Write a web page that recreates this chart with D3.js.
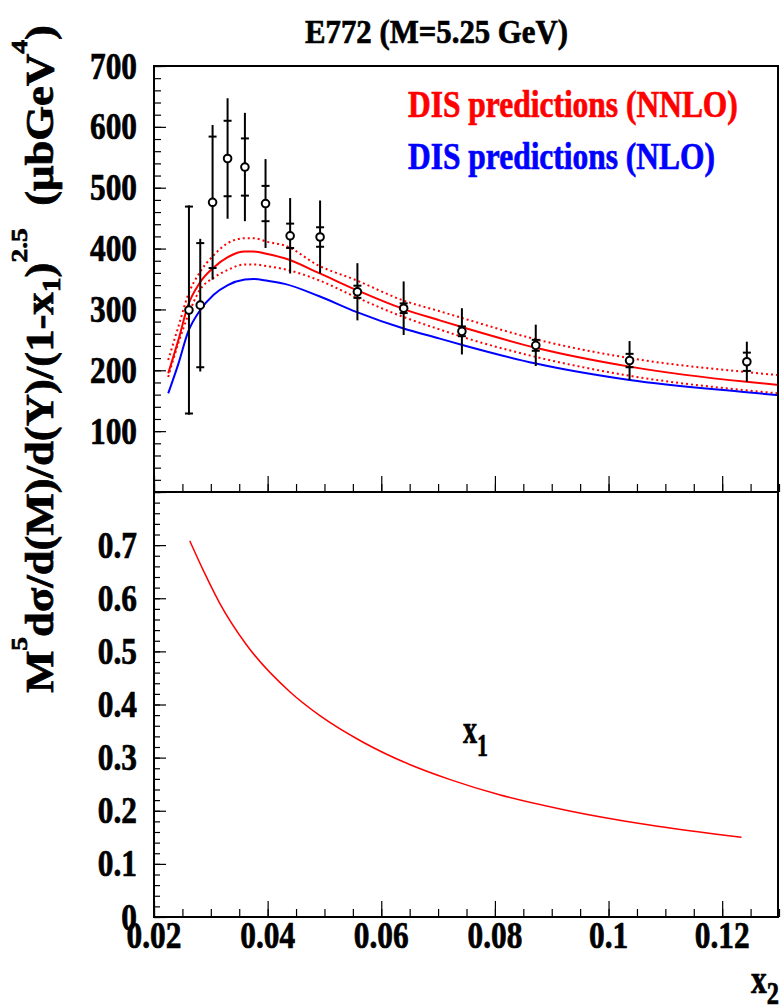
<!DOCTYPE html>
<html><head><meta charset="utf-8">
<script src="https://cdn.jsdelivr.net/npm/d3@7"></script>
<style>body{margin:0;background:#fff}text{font-weight:bold;white-space:pre}</style>
</head><body>
<svg id="c" width="783" height="1005" xmlns="http://www.w3.org/2000/svg"></svg>
<script>
// ---------- texts / ticks ----------
const titleText = "E772 (M=5.25 GeV)";
const xTickValues = [0.02, 0.04, 0.06, 0.08, 0.10, 0.12];
const xTickLabels = ["0.02", "0.04", "0.06", "0.08", "0.1", "0.12"];
const upperYTickValues = [100, 200, 300, 400, 500, 600, 700];
const upperYTickLabels = ["100", "200", "300", "400", "500", "600", "700"];
const lowerYTickValues = [0, 0.1, 0.2, 0.3, 0.4, 0.5, 0.6, 0.7];
const lowerYTickLabels = ["0", "0.1", "0.2", "0.3", "0.4", "0.5", "0.6", "0.7"];
const legendLabels = ["DIS predictions (NNLO)", "DIS predictions (NLO)"];
const legendColors = ["#ff0000", "#0000ff"];

// ---------- E772 data points ----------
const dataX   = [0.02615, 0.02814, 0.03031, 0.03295, 0.0360, 0.03963, 0.04396, 0.04923, 0.0558, 0.06394, 0.07419, 0.08719, 0.1037, 0.12434];
const dataY   = [299, 307, 476, 548, 534, 474, 421, 419, 329, 302, 264, 241, 216, 214];
const statErr = [170, 102, 108, 62, 47, 29, 20, 16, 10, 8, 8, 9, 11, 15];
const totErr  = [172, 109, 127, 99, 89, 73, 62, 60, 47, 44, 38, 34, 32, 33];

// ---------- prediction curves ----------
const curveX     = [0.0225, 0.0243, 0.026, 0.028, 0.0305, 0.033, 0.036, 0.0375, 0.040, 0.043, 0.049, 0.0556, 0.0638, 0.0703, 0.0749, 0.0872, 0.1037, 0.1243, 0.13];
const nnlo       = [195, 250, 307, 343, 369, 386, 395, 395, 391, 384, 360, 332, 301, 282, 269, 237, 206, 181, 176];
const nnloUpper  = [217, 272, 324, 360, 389, 409, 417, 417, 411, 405, 372, 348, 315, 297, 284, 251, 220, 197, 192];
const nnloLower  = [189, 245, 290, 331, 352, 365, 374, 374, 371, 366, 348, 320, 288, 267, 253, 222, 191, 167, 162];
const nlo        = [162, 211, 263, 297, 324, 340, 349, 350, 347, 342, 322, 296, 269, 252, 240, 211, 184, 164, 159];

// ---------- x1 vs x2 ----------
const x1CurveX = [0.0263, 0.0287, 0.0316, 0.0363, 0.0439, 0.0492, 0.0568, 0.0650, 0.0720, 0.0808, 0.0925, 0.1072, 0.1234];
const x1CurveY = [0.708, 0.652, 0.590, 0.512, 0.424, 0.379, 0.329, 0.287, 0.259, 0.230, 0.201, 0.173, 0.150];

// ---------- pick an installed Times-like font ----------
function pickFont(cands) {
  const ctx = document.createElement("canvas").getContext("2d");
  const s = "abcdefghijklmnopqrstuvwxyzABCDEFGHIJKLM0123456789";
  const w = f => { ctx.font = "bold 40px " + f; return ctx.measureText(s).width; };
  const m = w("monospace"), ss = w("sans-serif");
  for (const c of cands) {
    const q = `"${c}"`;
    if (w(q + ", monospace") !== m && w(q + ", sans-serif") !== ss) return q;
  }
  return "serif";
}
const FONT = pickFont(["Liberation Serif", "Times New Roman", "Tinos", "Nimbus Roman", "Nimbus Roman No9 L", "FreeSerif", "Times", "DejaVu Serif"]);

// ---------- layout ----------
const L = 154, R = 779, upTop = 66, mid = 492, lowBot = 917;
const svg = d3.select("#c").attr("font-family", FONT).style("font-family", FONT);
const x  = d3.scaleLinear().domain([0.02, 0.13]).range([L, R]);
const yU = d3.scaleLinear().domain([0, 700]).range([mid, upTop]);
const yL = d3.scaleLinear().domain([0, 0.8]).range([lowBot, mid]);

const xMinor = d3.range(0.02, 0.1300001, 0.005).map(v => +v.toFixed(4));
const yUMinor = d3.range(0, 700.1, 20);
const yLMinor = d3.range(0, 0.8001, 0.02).map(v => +v.toFixed(3));

function drawAxis(g, axis) {
  g.call(axis);
  g.select(".domain").remove();
  g.selectAll(".tick line").attr("stroke", "#000").attr("stroke-width", 1.2);
  g.selectAll(".tick text").remove();
}
drawAxis(svg.append("g").attr("transform", `translate(0,${mid})`),
  d3.axisBottom(x).tickValues(xMinor).tickSizeInner(-8).tickSizeOuter(0).tickFormat(""));
drawAxis(svg.append("g").attr("transform", `translate(0,${mid})`),
  d3.axisBottom(x).tickValues(xTickValues).tickSizeInner(-16).tickSizeOuter(0).tickFormat(""));
drawAxis(svg.append("g").attr("transform", `translate(${L},0)`),
  d3.axisLeft(yU).tickValues(yUMinor).tickSizeInner(-7).tickSizeOuter(0).tickFormat(""));
drawAxis(svg.append("g").attr("transform", `translate(${L},0)`),
  d3.axisLeft(yU).tickValues([0].concat(upperYTickValues)).tickSizeInner(-12).tickSizeOuter(0).tickFormat(""));
drawAxis(svg.append("g").attr("transform", `translate(0,${lowBot})`),
  d3.axisBottom(x).tickValues(xMinor).tickSizeInner(-8).tickSizeOuter(0).tickFormat(""));
drawAxis(svg.append("g").attr("transform", `translate(0,${lowBot})`),
  d3.axisBottom(x).tickValues(xTickValues).tickSizeInner(-16).tickSizeOuter(0).tickFormat(""));
drawAxis(svg.append("g").attr("transform", `translate(${L},0)`),
  d3.axisLeft(yL).tickValues(yLMinor).tickSizeInner(-6).tickSizeOuter(0).tickFormat(""));
drawAxis(svg.append("g").attr("transform", `translate(${L},0)`),
  d3.axisLeft(yL).tickValues(lowerYTickValues).tickSizeInner(-12).tickSizeOuter(0).tickFormat(""));

// ---------- curves ----------
svg.append("clipPath").attr("id", "clipU").append("rect")
  .attr("x", L).attr("y", upTop).attr("width", R - L).attr("height", mid - upTop);
const gU = svg.append("g").attr("clip-path", "url(#clipU)");
const lineU = d3.line().x((d, i) => x(curveX[i])).y(d => yU(d)).curve(d3.curveMonotoneX);
gU.append("path").attr("d", lineU(nnloUpper)).attr("fill", "none").attr("stroke", "#ff0000").attr("stroke-width", 2).attr("stroke-dasharray", "2,3");
gU.append("path").attr("d", lineU(nnloLower)).attr("fill", "none").attr("stroke", "#ff0000").attr("stroke-width", 2).attr("stroke-dasharray", "2,3");
gU.append("path").attr("d", lineU(nlo)).attr("fill", "none").attr("stroke", "#0000ff").attr("stroke-width", 2);
gU.append("path").attr("d", lineU(nnlo)).attr("fill", "none").attr("stroke", "#ff0000").attr("stroke-width", 2);

// ---------- data points ----------
const gD = svg.append("g");
dataX.forEach((xv, i) => {
  const cx = x(xv);
  gD.append("line").attr("x1", cx).attr("x2", cx)
    .attr("y1", yU(dataY[i] - totErr[i])).attr("y2", yU(dataY[i] + totErr[i]))
    .attr("stroke", "#000").attr("stroke-width", 2);
  [dataY[i] - statErr[i], dataY[i] + statErr[i]].forEach(v => {
    gD.append("line").attr("x1", cx - 4).attr("x2", cx + 4)
      .attr("y1", yU(v)).attr("y2", yU(v)).attr("stroke", "#000").attr("stroke-width", 2);
  });
  gD.append("circle").attr("cx", cx).attr("cy", yU(dataY[i])).attr("r", 3.8)
    .attr("fill", "#fff").attr("stroke", "#000").attr("stroke-width", 2);
});

// ---------- lower curve ----------
const lineL = d3.line().x((d, i) => x(x1CurveX[i])).y(d => yL(d)).curve(d3.curveMonotoneX);
svg.append("path").attr("d", lineL(x1CurveY)).attr("fill", "none").attr("stroke", "#ff0000").attr("stroke-width", 1.5);

// ---------- frames ----------
svg.append("rect").attr("x", L).attr("y", upTop).attr("width", R - L - 1).attr("height", mid - upTop)
  .attr("fill", "none").attr("stroke", "#000").attr("stroke-width", 2);
svg.append("rect").attr("x", L).attr("y", mid).attr("width", R - L - 1).attr("height", lowBot - mid)
  .attr("fill", "none").attr("stroke", "#000").attr("stroke-width", 2);

// ---------- text helpers ----------
function placeText(sel, tx, ty, sx, rot) {
  sel.attr("x", 0).attr("y", 0)
     .attr("transform", `translate(${tx},${ty})` + (rot ? ` rotate(${rot})` : "") + ` scale(${sx},1)`);
}
function fitScale(node, target) { return target / node.getComputedTextLength(); }
function heavy(sel, color) { return sel.attr("fill", color).attr("stroke", color).attr("stroke-width", 0.7); }

const probe = svg.append("text").attr("font-size", 37).text("700");
const tickSX = fitScale(probe.node(), 47);
probe.remove();

upperYTickValues.forEach((v, i) => {
  const t = heavy(svg.append("text").attr("font-size", 37).attr("text-anchor", "end").text(upperYTickLabels[i]), "#000");
  placeText(t, 137, yU(v) + 12.5, tickSX);
});
lowerYTickValues.forEach((v, i) => {
  const t = heavy(svg.append("text").attr("font-size", 37).attr("text-anchor", "end").text(lowerYTickLabels[i]), "#000");
  placeText(t, 137, yL(v) + 12.5, tickSX);
});
xTickValues.forEach((v, i) => {
  const t = heavy(svg.append("text").attr("font-size", 37).attr("text-anchor", "middle").text(xTickLabels[i]), "#000");
  placeText(t, x(v), 948, tickSX);
});

const tt = heavy(svg.append("text").attr("font-size", 34).attr("text-anchor", "middle").text(titleText), "#000");
placeText(tt, 436.5, 43, fitScale(tt.node(), 263));

const legendBase = [117, 169], legendW = [330, 307];
legendLabels.forEach((s, i) => {
  const t = heavy(svg.append("text").attr("font-size", 38).text(s), legendColors[i]);
  placeText(t, 408, legendBase[i], fitScale(t.node(), legendW[i]));
});

const x1t = heavy(svg.append("text").attr("font-size", 40), "#000");
x1t.append("tspan").text("x");
x1t.append("tspan").attr("font-size", 31).attr("dy", 13).text("1");
placeText(x1t, 463, 743, fitScale(x1t.node(), 25));

const x2t = heavy(svg.append("text").attr("font-size", 40), "#000");
x2t.append("tspan").text("x");
x2t.append("tspan").attr("font-size", 31).attr("dy", 11).text("2");
placeText(x2t, 751, 993, fitScale(x2t.node(), 28));

const yt = heavy(svg.append("text").attr("font-size", 39).attr("text-anchor", "middle"), "#000");
yt.append("tspan").text("M");
yt.append("tspan").attr("font-size", 24).attr("dy", -26).text("5");
yt.append("tspan").attr("dy", 26).text("dσ/d(M)/d(Y)/(1-x");
yt.append("tspan").attr("font-size", 26).attr("dy", 7).text("1");
yt.append("tspan").attr("dy", -7).text(")");
yt.append("tspan").attr("font-size", 24).attr("dy", -26).text("2.5");
yt.append("tspan").attr("dy", 26).text("  (μbGeV");
yt.append("tspan").attr("font-size", 24).attr("dy", -26).text("4");
yt.append("tspan").attr("dy", 26).text(")");
placeText(yt, 53, 359, fitScale(yt.node(), 668), -90);
</script>
</body></html>
